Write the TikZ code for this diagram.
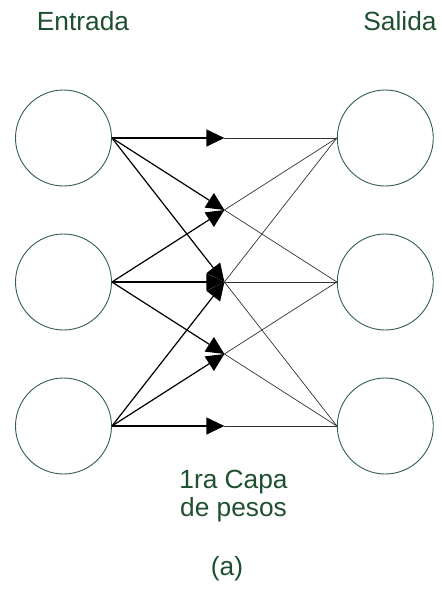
\documentclass[tikz,border=0pt]{standalone}
\usepackage{fontspec}
\setmainfont{Liberation Sans}
\usetikzlibrary{arrows.meta,calc}
\definecolor{txtgreen}{RGB}{30,80,48}
\definecolor{circgreen}{RGB}{50,95,70}
\begin{document}
\begin{tikzpicture}[x=1pt,y=-1pt,
  neuron/.style={circle,draw=circgreen,line width=0.9pt,minimum size=96pt,inner sep=0pt},
  lbl/.style={text=txtgreen,font=\fontsize{26.3}{27.7}\selectfont,inner sep=0pt,anchor=base,align=center},
  inhalf/.style={black,line width=1.2pt,-{Triangle[length=18pt,width=17pt]}},
  outhalf/.style={black!80,line width=0.7pt}]
\useasboundingbox (0,0) rectangle (442,590);
\foreach \i/\y in {1/138,2/282,3/426}{
  \node[neuron] (L\i) at (63.5,\y) {};
  \node[neuron] (R\i) at (385.3,\y) {};
}
\foreach \i in {1,2,3}{
  \foreach \j in {1,2,3}{
    \coordinate (M\i\j) at ($(L\i.east)!0.5!(R\j.west)$);
    \draw[outhalf] (M\i\j) -- (R\j.west);
  }
}
\foreach \i in {1,2,3}{
  \foreach \j in {1,2,3}{
    \draw[inhalf] (L\i.east) -- (M\i\j);
  }
}
\node[lbl] (ent) at (83,30.7) {Entrada};
\node[lbl] (sal) at (400,30.7) {Salida};
\node[lbl] (capa) at (233.5,516) {1ra Capa\\de pesos};
\node[lbl] (a) at (227,575) {(a)};
\end{tikzpicture}
\end{document}
